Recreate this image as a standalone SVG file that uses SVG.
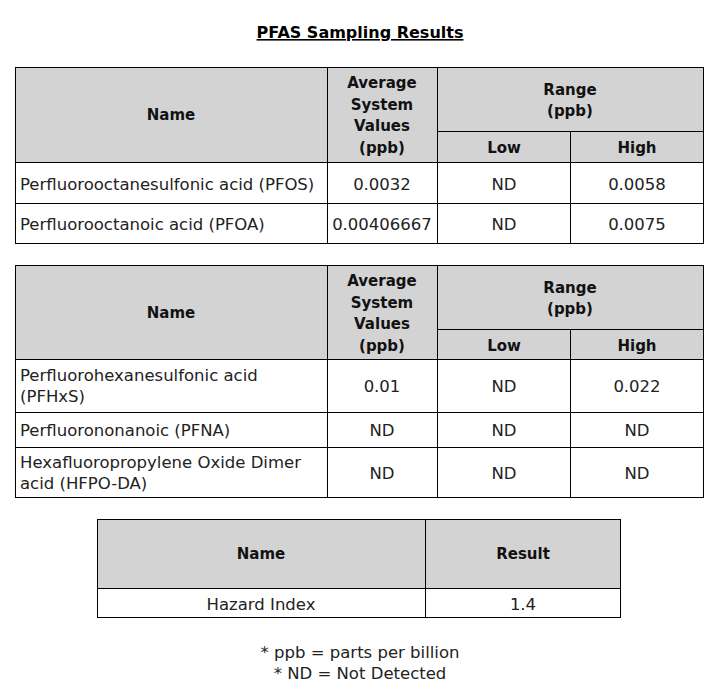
<svg xmlns="http://www.w3.org/2000/svg" width="726" height="689" viewBox="0 0 726 689">
<style>
  .hdr { fill: #d3d3d3; }
  .ln { stroke: #000; stroke-width: 1; fill: none; }
  .b { font-family: "DejaVu Sans", "Liberation Sans", sans-serif; font-weight: bold; font-size: 15px; fill: #111; text-anchor: middle; }
  .t { font-family: "DejaVu Sans", "Liberation Sans", sans-serif; font-size: 16.5px; fill: #222; }
  .c { text-anchor: middle; }
  .title { font-family: "DejaVu Sans", "Liberation Sans", sans-serif; font-weight: bold; font-size: 16px; fill: #000; text-anchor: middle; text-decoration: underline; }
</style>
<rect width="726" height="689" fill="#fff"/>
<text id="title" class="title" x="360" y="38">PFAS Sampling Results</text>

<g id="table1">
  <rect class="hdr" x="15" y="67" width="688" height="95"/>
  <g class="ln">
    <rect x="15.5" y="67.5" width="688" height="176"/>
    <line x1="15" y1="162.5" x2="704" y2="162.5"/>
    <line x1="437" y1="131.5" x2="704" y2="131.5"/>
    <line x1="15" y1="203.5" x2="704" y2="203.5"/>
    <line x1="327.5" y1="67" x2="327.5" y2="244"/>
    <line x1="437.5" y1="67" x2="437.5" y2="244"/>
    <line x1="570.5" y1="131" x2="570.5" y2="244"/>
  </g>
  <text class="b" x="171" y="120">Name</text>
  <text class="b" x="382" y="88">Average</text>
  <text class="b" x="382" y="110">System</text>
  <text class="b" x="382" y="131">Values</text>
  <text class="b" x="382" y="153">(ppb)</text>
  <text class="b" x="570" y="95">Range</text>
  <text class="b" x="570" y="116">(ppb)</text>
  <text class="b" x="504" y="153">Low</text>
  <text class="b" x="637" y="153">High</text>
  <text class="t" x="20" y="190">Perfluorooctanesulfonic acid (PFOS)</text>
  <text class="t c" x="382" y="190">0.0032</text>
  <text class="t c" x="504" y="190">ND</text>
  <text class="t c" x="637" y="190">0.0058</text>
  <text class="t" x="20" y="230">Perfluorooctanoic acid (PFOA)</text>
  <text class="t c" x="382" y="230">0.00406667</text>
  <text class="t c" x="504" y="230">ND</text>
  <text class="t c" x="637" y="230">0.0075</text>
</g>

<g id="table2">
  <rect class="hdr" x="15" y="265" width="688" height="94"/>
  <g class="ln">
    <rect x="15.5" y="265.5" width="688" height="232"/>
    <line x1="15" y1="359.5" x2="704" y2="359.5"/>
    <line x1="437" y1="329.5" x2="704" y2="329.5"/>
    <line x1="15" y1="412.5" x2="704" y2="412.5"/>
    <line x1="15" y1="447.5" x2="704" y2="447.5"/>
    <line x1="327.5" y1="265" x2="327.5" y2="498"/>
    <line x1="437.5" y1="265" x2="437.5" y2="498"/>
    <line x1="570.5" y1="329" x2="570.5" y2="498"/>
  </g>
  <text class="b" x="171" y="318">Name</text>
  <text class="b" x="382" y="286">Average</text>
  <text class="b" x="382" y="308">System</text>
  <text class="b" x="382" y="329">Values</text>
  <text class="b" x="382" y="351">(ppb)</text>
  <text class="b" x="570" y="293">Range</text>
  <text class="b" x="570" y="314">(ppb)</text>
  <text class="b" x="504" y="351">Low</text>
  <text class="b" x="637" y="351">High</text>
  <text class="t" x="20" y="381">Perfluorohexanesulfonic acid</text>
  <text class="t" x="20" y="402">(PFHxS)</text>
  <text class="t c" x="382" y="392">0.01</text>
  <text class="t c" x="504" y="392">ND</text>
  <text class="t c" x="637" y="392">0.022</text>
  <text class="t" x="20" y="436">Perfluorononanoic (PFNA)</text>
  <text class="t c" x="382" y="436">ND</text>
  <text class="t c" x="504" y="436">ND</text>
  <text class="t c" x="637" y="436">ND</text>
  <text class="t" x="20" y="468">Hexafluoropropylene Oxide Dimer</text>
  <text class="t" x="20" y="489">acid (HFPO-DA)</text>
  <text class="t c" x="382" y="479">ND</text>
  <text class="t c" x="504" y="479">ND</text>
  <text class="t c" x="637" y="479">ND</text>
</g>

<g id="table3">
  <rect class="hdr" x="97" y="519" width="523" height="69"/>
  <g class="ln">
    <rect x="97.5" y="519.5" width="523" height="98"/>
    <line x1="97" y1="588.5" x2="621" y2="588.5"/>
    <line x1="425.5" y1="519" x2="425.5" y2="618"/>
  </g>
  <text class="b" x="261" y="559">Name</text>
  <text class="b" x="523" y="559">Result</text>
  <text class="t c" x="261" y="610">Hazard Index</text>
  <text class="t c" x="523" y="610">1.4</text>
</g>

<g id="notes">
  <text class="t c" x="360" y="658">* ppb = parts per billion</text>
  <text class="t c" x="360" y="679">* ND = Not Detected</text>
</g>
</svg>
